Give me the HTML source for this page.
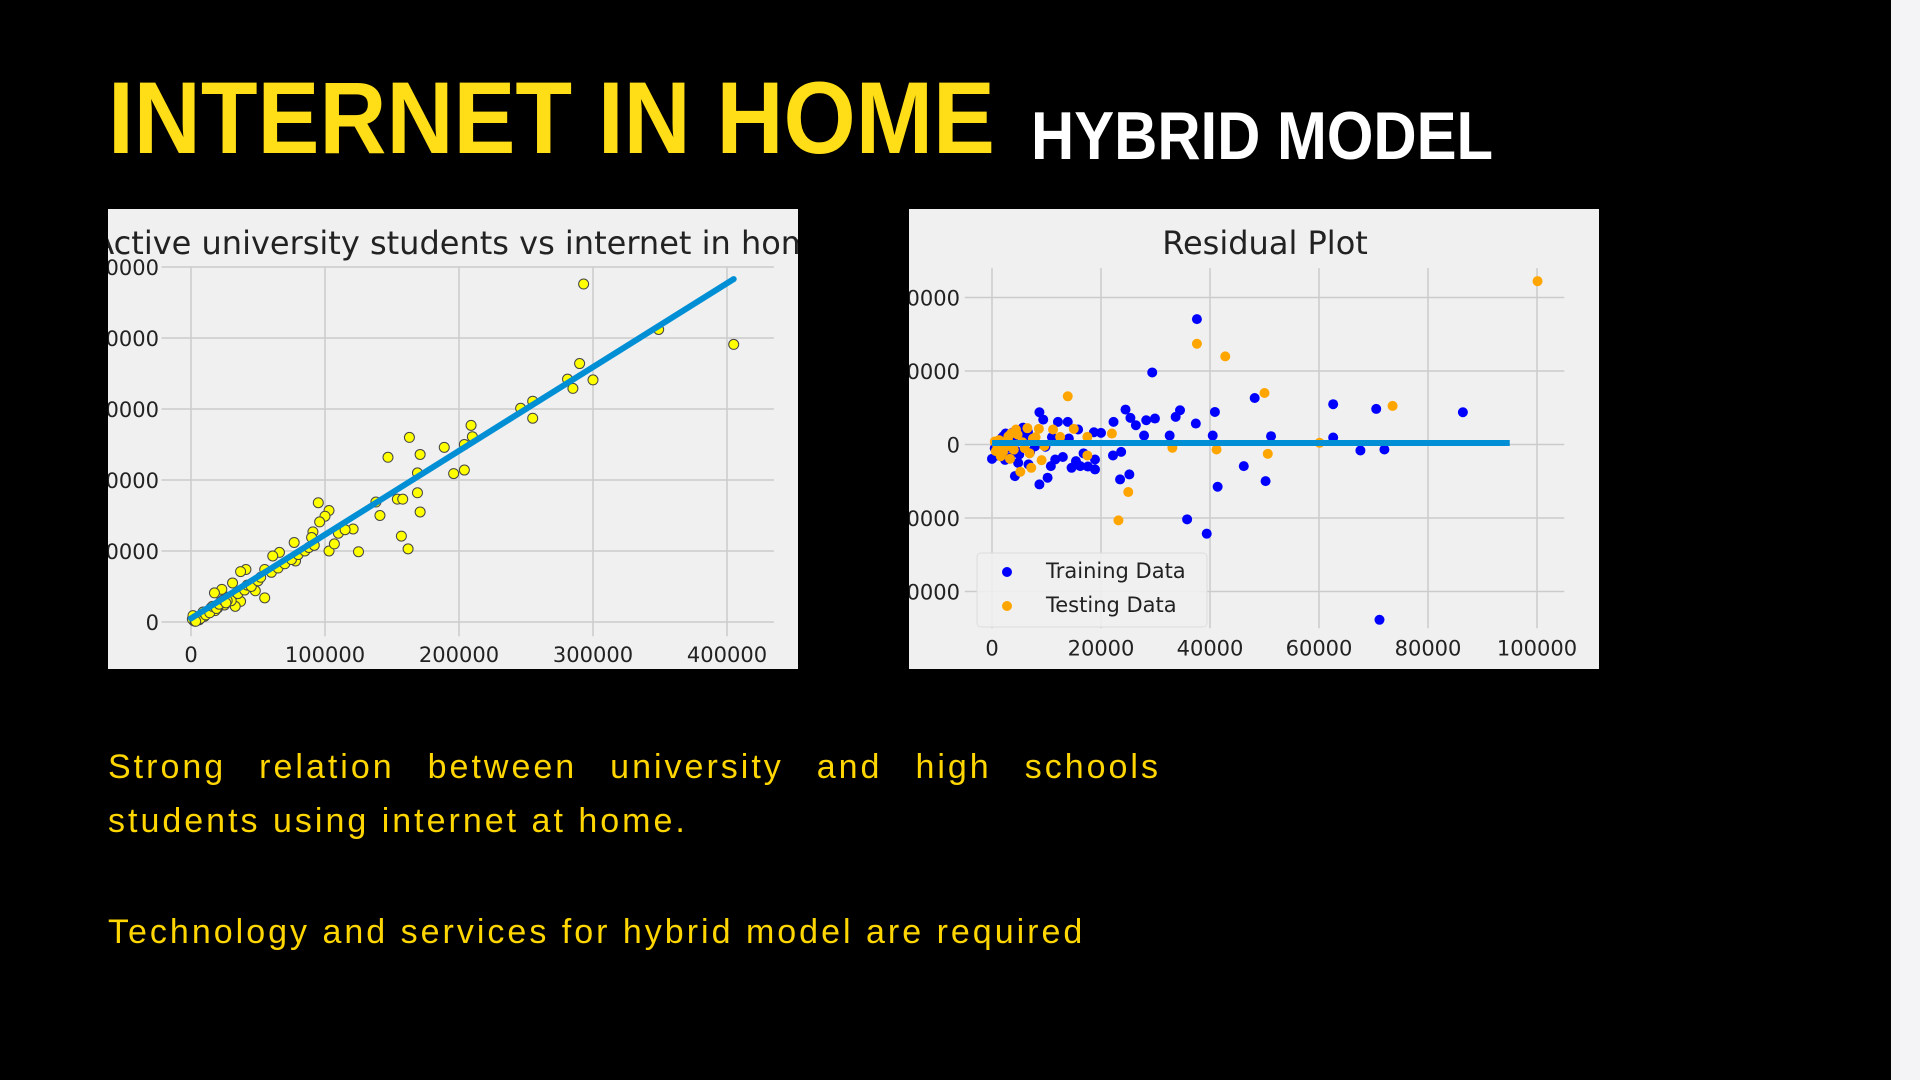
<!DOCTYPE html>
<html><head><meta charset="utf-8"><style>
html,body{margin:0;padding:0;background:#000;width:1920px;height:1080px;overflow:hidden;position:relative;font-family:"Liberation Sans",sans-serif}
.h1{position:absolute;left:108px;top:58px;font-weight:bold;font-size:102px;color:#FFDD17;white-space:nowrap;transform:scaleX(.91);transform-origin:left top;line-height:120px}
.h2{position:absolute;left:1031px;top:96px;font-weight:bold;font-size:68px;color:#fff;white-space:nowrap;transform:scaleX(.88);transform-origin:left top;line-height:80px}
.panel{position:absolute;background:#f0f0f0;overflow:hidden}
.body{position:absolute;left:108px;color:#FFD600;font-size:34px;letter-spacing:3px;white-space:nowrap}
.strip{position:absolute;left:1891px;top:0;width:29px;height:1080px;background:#f4f4f6}
</style></head><body>
<div class="h1">INTERNET IN HOME</div>
<div class="h2">HYBRID MODEL</div>
<div class="panel" style="left:108px;top:209px;width:690px;height:460px">
<svg id="c1" width="690" height="460"></svg></div>
<div class="panel" style="left:909px;top:209px;width:690px;height:460px">
<svg id="c2" width="690" height="460"></svg></div>
<div class="body" style="top:748px;width:1053px;display:flex;justify-content:space-between"><span>Strong</span><span>relation</span><span>between</span><span>university</span><span>and</span><span>high</span><span>schools</span></div>
<div class="body" style="top:802px">students using internet at home.</div>
<div class="body" style="top:913px">Technology and services for hybrid model are required</div>
<div class="strip"></div>
<script>
// Chart 1 data
const c1X=[293000,405000,349000,290000,300000,281000,285000,246000,255000,255000,209000,210000,204000,189000,163000,147000,171000,196000,204000,169000,169000,171000,154000,158000,138000,141000,157000,162000,125000,121000,95000,103000,100000,96000,91000,90000,103000,107000,77000,66000,61000,78000,41000,37000,55000,48000,55000,31000,23000,17500,37000,33000,5000,8000,12000,15000,18000,22000,25000,28000,30000,35000,40000,42000,45000,50000,52000,60000,65000,70000,75000,80000,85000,88000,92000,110000,115000,2000,1000,3000,6000,10000,13000,20000,27000,4000,7000,9000,11000,14000,16000,19000,21000,24000,26000,1500,3500];
const c1Y=[476000,391000,412000,364000,341000,342000,329000,301000,311000,287000,277000,261000,250000,246000,260000,232000,236000,209000,214000,210000,182000,155000,173000,173000,169000,150000,121000,103000,99000,131000,168000,157000,149000,141000,127000,119000,100000,110000,112000,98000,93000,86000,74000,71000,74000,44000,34000,55000,46000,41000,29000,22000,6000,9000,12000,20000,16000,28000,24000,35000,30000,40000,45000,52000,50000,58000,63000,70000,76000,82000,88000,95000,100000,105000,108000,125000,130000,2000,4000,1000,3000,8000,16000,20000,30000,7000,5000,14000,10000,13000,22000,19000,25000,31000,27000,9000,1000];
const c1Ticks=[0,100000,200000,300000,400000,500000];
const c1XTicks=[0,100000,200000,300000,400000];
const c1Line=[[0,5000],[405000,483000]];
// Chart 2 data
const trX=[37600,29400,48200,62600,70500,86400,40900,34500,33700,37400,29900,28300,24500,25400,26400,22300,27900,32600,40500,51200,62600,67600,72000,46200,50200,41400,35800,39400,71100,23500,25200,23700,22200,18900,18900,16200,14600,15400,11600,10800,10200,8700,4200,6700,8700,9400,12100,13900,14100,18700,20000,15800,0,2100,3700,5400,1200,2900,5000,7900,6200,830,1500,3000,4500,6000,1000,2500,4000,500,1800,3300,5700,7000,2400,4800,6600,9800,11000,13000,16800,17600];
const trY=[17060,9800,6330,5480,4840,4390,4430,4660,3760,2850,3530,3300,4750,3620,2620,3080,1220,1220,1220,1130,950,-810,-680,-2940,-4980,-5750,-10180,-12130,-23850,-4750,-4070,-1000,-1490,-3390,-2040,-2940,-3170,-2260,-2040,-2940,-4520,-5430,-4300,-2710,4390,3390,3080,3080,810,1670,1580,2040,-1950,1130,1580,2040,-1130,-450,-1360,-230,680,230,-600,500,-900,1200,-1500,1500,300,-500,900,-1800,2300,-1000,-2100,-2500,1700,-300,1000,-1700,-1200,-3000];
const teX=[100100,37600,42800,50000,73500,13900,15000,22000,17500,17500,33100,41200,50600,60100,25000,23200,9100,7200,5200,8600,6500,4400,2900,1900,3300,4700,11200,12500,1000,2000,3500,6000,7500,500,1300,2600,4000,5600,6900,8000,9600,3000,1600,700];
const teY=[22220,13710,11990,7010,5250,6560,2130,1490,1040,-1490,-450,-680,-1270,230,-6470,-10320,-2130,-3170,-3710,2130,2220,2040,680,-450,-1950,1360,2040,1040,-300,-1000,1500,-500,800,400,600,-300,-700,300,-1200,1000,-200,1100,-1600,-900];
const c2YTicks=[20000,10000,0,-10000,-20000];
const c2XTicks=[0,20000,40000,60000,80000,100000];
const c2Line=[[0,200],[95000,200]];
const legendLabels=["Training Data","Testing Data"];

const NS="http://www.w3.org/2000/svg";
function mk(p,t,a){const e=document.createElementNS(NS,t);for(const k in a)e.setAttribute(k,a[k]);p.appendChild(e);return e;}
function txt(p,x,y,s,size,anchor){const e=mk(p,'text',{x:x,y:y,'font-size':size,'text-anchor':anchor,'font-family':'DejaVu Sans, sans-serif',fill:'#222'});e.textContent=s;return e;}

// chart 1 (panel origin 108,209)
(function(){
 const s=document.getElementById('c1');
 const X=v=>191-108+v/100000*134, Y=v=>622-209-v/100000*71;
 const t=txt(s,354,45,'Active university students vs internet in home',32,'middle');
 
 c1Ticks.forEach(v=>{const g=mk(s,'line',{x1:X(-22000),x2:X(435000),y1:Y(v),y2:Y(v),stroke:'#cbcbcb','stroke-width':1.5});
  
  const l=txt(s,51,Y(v)+8,String(v),21,'end');});
 c1XTicks.forEach(v=>{const g=mk(s,'line',{x1:X(v),x2:X(v),y1:Y(500000),y2:Y(-20000),stroke:'#cbcbcb','stroke-width':1.5});
  
  const l=txt(s,X(v),Y(0)+40,String(v),21,'middle');});
 c1X.forEach((v,i)=>{const c=mk(s,'circle',{cx:X(v),cy:Y(c1Y[i]),r:5,fill:'#ffff00',stroke:'#444','stroke-width':1});
  });
 const ln=mk(s,'line',{x1:X(c1Line[0][0]),y1:Y(c1Line[0][1]),x2:X(c1Line[1][0]),y2:Y(c1Line[1][1]),stroke:'#008fd5','stroke-width':6,'stroke-linecap':'round'});
 
})();

// chart 2 (panel origin 909,209)
(function(){
 const s=document.getElementById('c2');
 const X=v=>992-909+v/100000*545, Y=v=>444.5-209-v/10000*73.5;
 const t=txt(s,356,45,'Residual Plot',32,'middle');
 
 c2YTicks.forEach(v=>{const g=mk(s,'line',{x1:X(-5000),x2:X(105000),y1:Y(v),y2:Y(v),stroke:'#cbcbcb','stroke-width':1.5});
  
  const l=txt(s,51,Y(v)+8,String(v),21,'end');});
 c2XTicks.forEach(v=>{const g=mk(s,'line',{x1:X(v),x2:X(v),y1:Y(24000),y2:Y(-25000),stroke:'#cbcbcb','stroke-width':1.5});
  
  const l=txt(s,X(v),Y(0)+211,String(v),21,'middle');});
 trX.forEach((v,i)=>{const c=mk(s,'circle',{cx:X(v),cy:Y(trY[i]),r:5,fill:'#0000ff'});
  });
 teX.forEach((v,i)=>{const c=mk(s,'circle',{cx:X(v),cy:Y(teY[i]),r:5,fill:'#ffa500'});
  });
 const ln=mk(s,'line',{x1:X(c2Line[0][0]),y1:Y(c2Line[0][1]),x2:X(c2Line[1][0]),y2:Y(c2Line[1][1]),stroke:'#008fd5','stroke-width':6});
 
 const lg=mk(s,'rect',{x:68,y:344,width:230,height:74,rx:4,fill:'#f0f0f0',stroke:'#dcdcdc','stroke-width':1,opacity:.9});
 
 const cols=['#0000ff','#ffa500'];
 legendLabels.forEach((n,i)=>{const c=mk(s,'circle',{cx:98,cy:363+i*34,r:5,fill:cols[i]});
  
  const l=txt(s,137,369+i*34,n,21,'start');});
})();
</script>
</body></html>
